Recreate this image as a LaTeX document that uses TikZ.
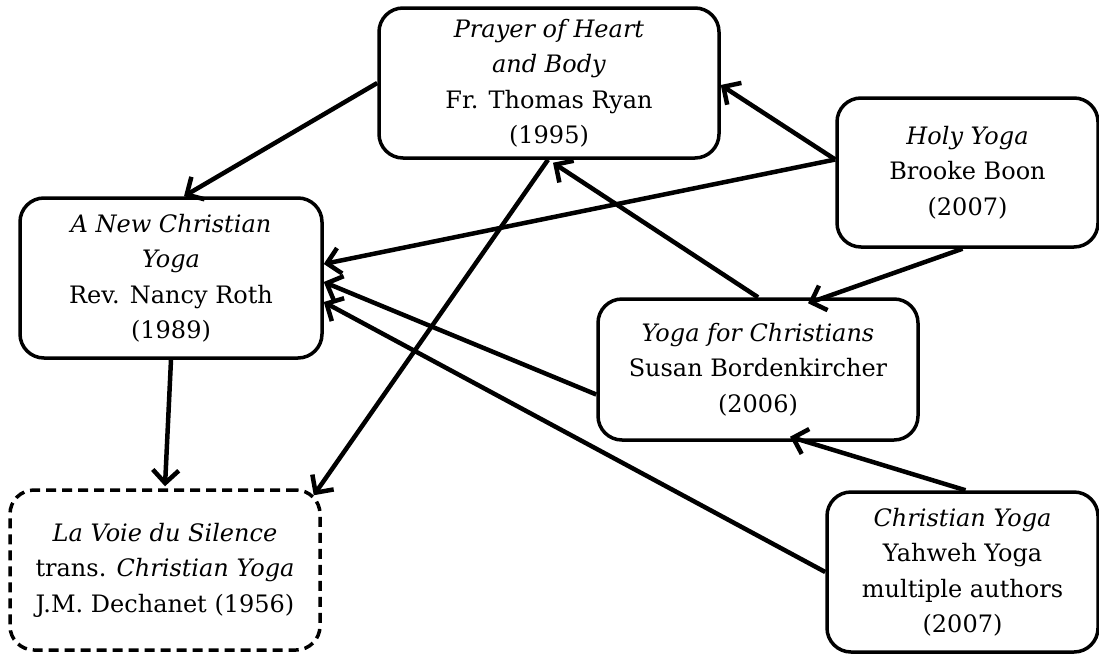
\documentclass[tikz,border=0pt]{standalone}
\usepackage{fontspec}
\setmainfont{DejaVu Serif}
\usetikzlibrary{arrows.meta}
\begin{document}
\begin{tikzpicture}[x=1pt,y=1pt,
  box/.style={draw, line width=3.5pt, rounded corners=24pt, align=center,
    font=\fontsize{24}{35.5}\selectfont, inner sep=0pt},
  dbox/.style={box, dash pattern=on 10pt off 6pt},
  link/.style={line width=4.5pt, -{Straight Barb[length=13pt,width=26pt]}}]
\useasboundingbox (0,0) rectangle (1099,-656);
\node[box, minimum width=340pt, minimum height=150pt] (prayer) at (549,-83)
  {\textit{Prayer of Heart}\\\textit{and Body}\\Fr. Thomas Ryan\\(1995)};
\node[box, minimum width=302pt, minimum height=160pt] (nancy) at (171,-278)
  {\textit{A New Christian}\\\textit{Yoga}\\Rev. Nancy Roth\\(1989)};
\node[dbox, minimum width=310pt, minimum height=160pt] (voie) at (165,-570)
  {\textit{La Voie du Silence}\\trans. \textit{Christian Yoga}\\J.M. Dechanet (1956)};
\node[box, minimum width=320pt, minimum height=141pt] (yfc) at (758,-369.5)
  {\textit{Yoga for Christians}\\Susan Bordenkircher\\(2006)};
\node[box, minimum width=261pt, minimum height=149pt] (holy) at (967.5,-172.5)
  {\textit{Holy Yoga}\\Brooke Boon\\(2007)};
\node[box, minimum width=271pt, minimum height=160pt] (cy) at (962.5,-572)
  {\textit{Christian Yoga}\\Yahweh Yoga\\multiple authors\\(2007)};
\draw[link] (prayer.west) -- ([xshift=13pt]nancy.north);
\draw[link] ([yshift=13pt]holy.west) -- ([yshift=-2pt]prayer.east);
\draw[link] ([yshift=13pt]holy.west) -- ([yshift=14pt]nancy.east);
\draw[link] ([xshift=-5pt]holy.south) -- ([xshift=50pt,yshift=-6pt]yfc.north);
\draw[link] (yfc.north) -- ([xshift=4pt,yshift=-3pt]prayer.south);
\draw[link] ([yshift=-25pt]yfc.west) -- ([yshift=-4pt]nancy.east);
\draw[link] (cy.west) -- ([yshift=-24pt]nancy.east);
\draw[link] ([xshift=3pt]cy.north) -- ([xshift=32pt,yshift=5pt]yfc.south);
\draw[link] (nancy.south) -- ([yshift=2pt]voie.north);
\draw[link] ([xshift=-1pt]prayer.south) -- ([xshift=-8pt,yshift=-7pt]voie.north east);
\end{tikzpicture}
\end{document}
